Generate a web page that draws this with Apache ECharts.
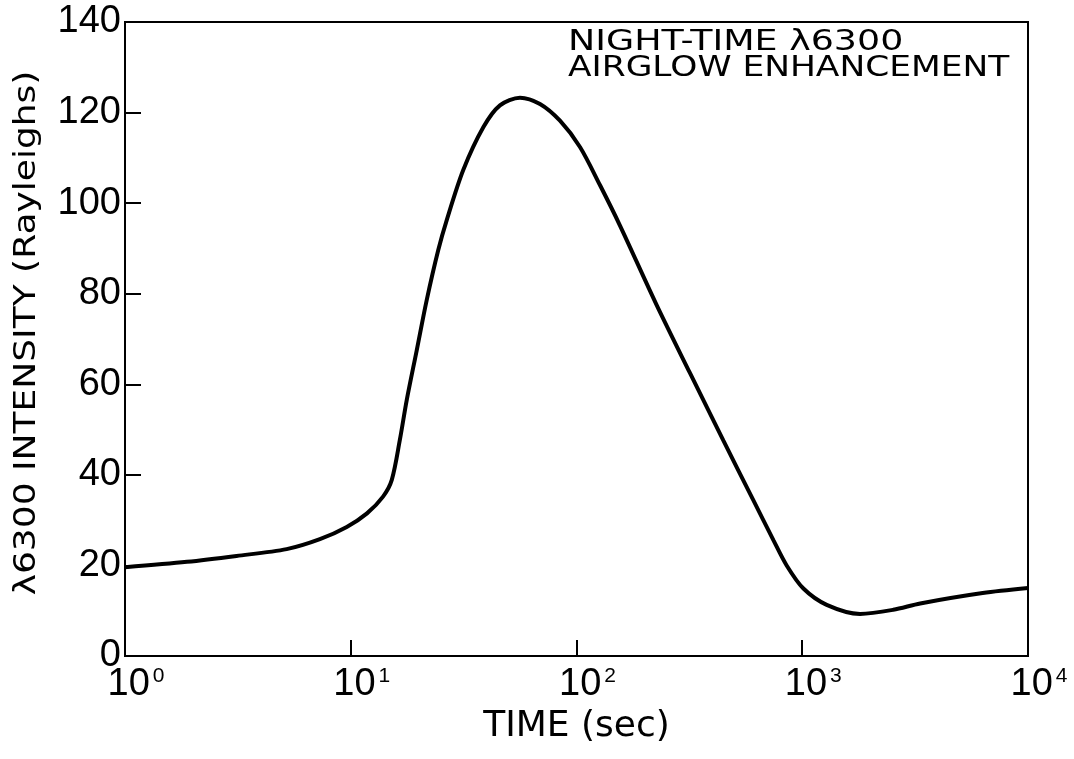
<!DOCTYPE html>
<html>
<head>
<meta charset="utf-8">
<script src="https://cdn.jsdelivr.net/npm/echarts@6/dist/echarts.min.js"></script>
<style>
html,body{margin:0;padding:0;background:#fff;}
#chart{width:1074px;height:759px;}
</style>
</head>
<body>
<div id="chart"></div>
<script>
// Time (s) and λ6300 intensity (Rayleighs)
const times = [1, 1.88, 3.12, 5.2, 7.3, 9.6, 11.8, 13.9, 15.2, 16.5, 17.7, 19.6, 21.7, 24.4, 26.6, 31.5, 38.7, 45.8, 56.2, 68.9, 84.5, 103.6, 127, 156, 226, 318, 447, 607, 745, 853, 1012, 1283, 1803, 2530, 3330, 6300, 10000];
const intensity = [19.6, 20.8, 22.1, 23.6, 25.8, 28.5, 31.5, 35.2, 38.9, 47.7, 56.5, 67.5, 78.6, 89.6, 96.2, 107.3, 116.8, 121.6, 123.3, 121.9, 118.2, 112.4, 104.0, 95.0, 77.6, 62.5, 47.6, 34.4, 25.6, 20.0, 14.9, 11.3, 9.3, 10.2, 11.6, 13.9, 15.0];
const yTicks = [0, 20, 40, 60, 80, 100, 120, 140];
const xExponents = [0, 1, 2, 3, 4];
const annotationLines = ['NIGHT-TIME λ6300', 'AIRGLOW ENHANCEMENT'];
const xName = 'TIME (sec)';
const yName = 'λ6300 INTENSITY (Rayleighs)';

const chart = echarts.init(document.getElementById('chart'), null, {renderer: 'canvas'});
const seriesData = times.map((t, i) => [t, intensity[i]]);

chart.setOption({
  backgroundColor: '#fff',
  animation: false,
  grid: {left: 125, right: 46, top: 22, bottom: 103, show: true, borderColor: '#000', borderWidth: 2, backgroundColor: 'transparent'},
  xAxis: {
    type: 'log', logBase: 10,
    min: Math.pow(10, xExponents[0]), max: Math.pow(10, xExponents[xExponents.length - 1]),
    name: xName, nameLocation: 'middle', nameGap: 46,
    nameTextStyle: {fontFamily: 'DejaVu Sans', fontSize: 36, color: '#000'},
    axisLine: {lineStyle: {color: '#000', width: 2}},
    axisTick: {inside: true, length: 16, lineStyle: {color: '#000', width: 2}},
    minorTick: {show: false},
    splitLine: {show: false},
    axisLabel: {
      margin: 10,
      padding: [0, 0, 0, 22],
      formatter: function (v) {
        const e = Math.round(Math.log10(v));
        return '{b|10}{s|' + e + '}';
      },
      rich: {
        b: {fontFamily: 'Liberation Sans', fontSize: 38, color: '#000'},
        s: {fontFamily: 'Liberation Sans', fontSize: 21, color: '#000', verticalAlign: 'top', padding: [0, 0, 0, 3]}
      }
    }
  },
  yAxis: {
    type: 'value', min: yTicks[0], max: yTicks[yTicks.length - 1], interval: 20,
    axisLine: {show: true, lineStyle: {color: '#000', width: 2}},
    axisTick: {show: true, inside: true, length: 16, lineStyle: {color: '#000', width: 2}},
    splitLine: {show: false},
    axisLabel: {margin: 4, fontFamily: 'Liberation Sans', fontSize: 38, color: '#000'}
  },
  graphic: [
    {
      type: 'text', x: 568, y: 29, scaleX: 1.3,
      style: {text: annotationLines[0], font: '28px "DejaVu Sans"', fill: '#000', textVerticalAlign: 'top'}
    },
    {
      type: 'text', x: 568, y: 55, scaleX: 1.23,
      style: {text: annotationLines[1], font: '28px "DejaVu Sans"', fill: '#000', textVerticalAlign: 'top'}
    },
    {
      type: 'text', x: 27, y: 333, rotation: Math.PI / 2, scaleX: 1.2,
      style: {text: yName, font: '30px "DejaVu Sans"', fill: '#000', textAlign: 'center', textVerticalAlign: 'middle'}
    }
  ],
  series: [{
    type: 'line', data: seriesData, showSymbol: false, smooth: 0.3,
    lineStyle: {color: '#000', width: 4}
  }]
});
</script>
</body>
</html>
